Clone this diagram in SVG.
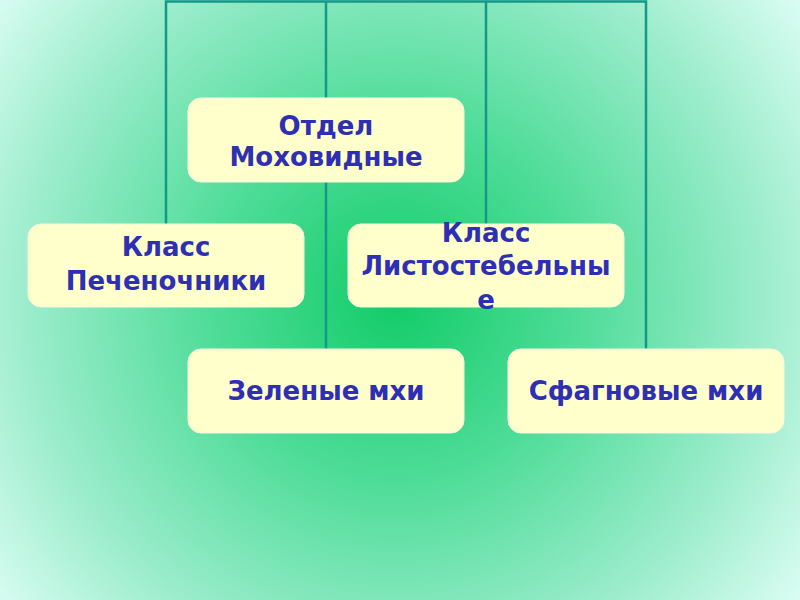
<svg xmlns="http://www.w3.org/2000/svg" width="800" height="600" viewBox="0 0 800 600">
<defs>
<radialGradient id="bg" gradientUnits="userSpaceOnUse" cx="395" cy="300" r="520">
<stop offset="0" stop-color="#12cc68"/>
<stop offset="0.35" stop-color="#4edc98"/>
<stop offset="0.7" stop-color="#9aeccb"/>
<stop offset="1" stop-color="#e2fff8"/>
</radialGradient>
<style>
.box{fill:#ffffcc;stroke:#f4f8e0;stroke-width:1}
.t{font-family:"DejaVu Sans","Verdana",sans-serif;font-weight:bold;font-size:26px;fill:#2f2fb4;text-anchor:middle}
.ln{fill:none;stroke:#15978a;stroke-width:2.5}
</style>
</defs>
<rect width="800" height="600" fill="url(#bg)"/>
<g id="connectors">
<polyline class="ln" points="166,224 166,1.5 646,1.5 646,349"/>
<line class="ln" x1="326" y1="1.5" x2="326" y2="349"/>
<line class="ln" x1="486" y1="1.5" x2="486" y2="224"/>
</g>
<g id="otdel">
<rect class="box" x="188" y="98" width="276" height="84" rx="13"/>
<text class="t" x="326" y="135">Отдел</text>
<text class="t" x="326" y="166">Моховидные</text>
</g>
<g id="pechenochniki">
<rect class="box" x="28" y="224" width="276" height="83" rx="13"/>
<text class="t" x="166" y="256">Класс</text>
<text class="t" x="166" y="290">Печеночники</text>
</g>
<g id="listostebelnye">
<rect class="box" x="348" y="224" width="276" height="83" rx="13"/>
<text class="t" x="486" y="242">Класс</text>
<text class="t" x="486" y="275">Листостебельны</text>
<text class="t" x="486" y="309">е</text>
</g>
<g id="zelenye">
<rect class="box" x="188" y="349" width="276" height="84" rx="13"/>
<text class="t" x="326" y="400">Зеленые мхи</text>
</g>
<g id="sfagnovye">
<rect class="box" x="508" y="349" width="276" height="84" rx="13"/>
<text class="t" x="646" y="400">Сфагновые мхи</text>
</g>
</svg>
